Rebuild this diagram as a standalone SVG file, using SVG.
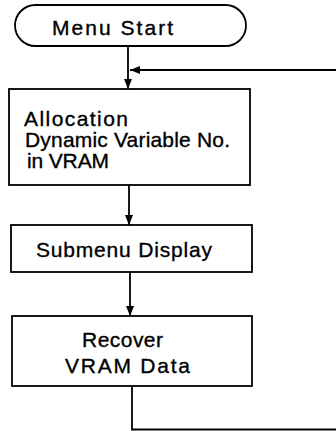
<svg xmlns="http://www.w3.org/2000/svg" width="336" height="431" viewBox="0 0 336 431">
<style>
.box{fill:#fff;stroke:#000;stroke-width:1.8}
.ln{fill:none;stroke:#000;stroke-width:1.8}
text{font-family:"Liberation Sans",Arial,sans-serif;font-size:21px;fill:#000;stroke:#000;stroke-width:0.35}
</style>
<defs>
<marker id="ah" viewBox="0 0 10 10" refX="10" refY="5" markerWidth="10" markerHeight="10" markerUnits="userSpaceOnUse" orient="auto">
<path d="M0,1 L10,5 L0,9 Z" fill="#000"/>
</marker>
</defs>
<rect width="336" height="431" fill="#fff"/>
<g id="connectors">
<line class="ln" x1="128" y1="46" x2="128" y2="89" marker-end="url(#ah)"/>
<line class="ln" x1="336" y1="70" x2="130" y2="70" marker-end="url(#ah)"/>
<line class="ln" x1="129" y1="185" x2="129" y2="225" marker-end="url(#ah)"/>
<line class="ln" x1="130" y1="272" x2="130" y2="316" marker-end="url(#ah)"/>
<polyline class="ln" points="132,386 132,429.5 336,429.5"/>
</g>
<g id="menu-start">
<rect class="box" x="15" y="5" width="231" height="41" rx="20.5" ry="20.5"/>
<text x="52" y="35" textLength="121" lengthAdjust="spacing">Menu Start</text>
</g>
<g id="allocation">
<rect class="box" x="9" y="89" width="241" height="96"/>
<text x="24" y="126" textLength="104" lengthAdjust="spacing">Allocation</text>
<text x="25" y="147" textLength="205" lengthAdjust="spacing">Dynamic Variable No.</text>
<text x="27" y="168" textLength="82" lengthAdjust="spacing">in VRAM</text>
</g>
<g id="submenu-display">
<rect class="box" x="11" y="225" width="241" height="47"/>
<text x="36" y="257" textLength="176" lengthAdjust="spacing">Submenu Display</text>
</g>
<g id="recover">
<rect class="box" x="12" y="316" width="240" height="70"/>
<text x="82" y="347" textLength="81" lengthAdjust="spacing">Recover</text>
<text x="65" y="373" textLength="125" lengthAdjust="spacing">VRAM Data</text>
</g>
</svg>
